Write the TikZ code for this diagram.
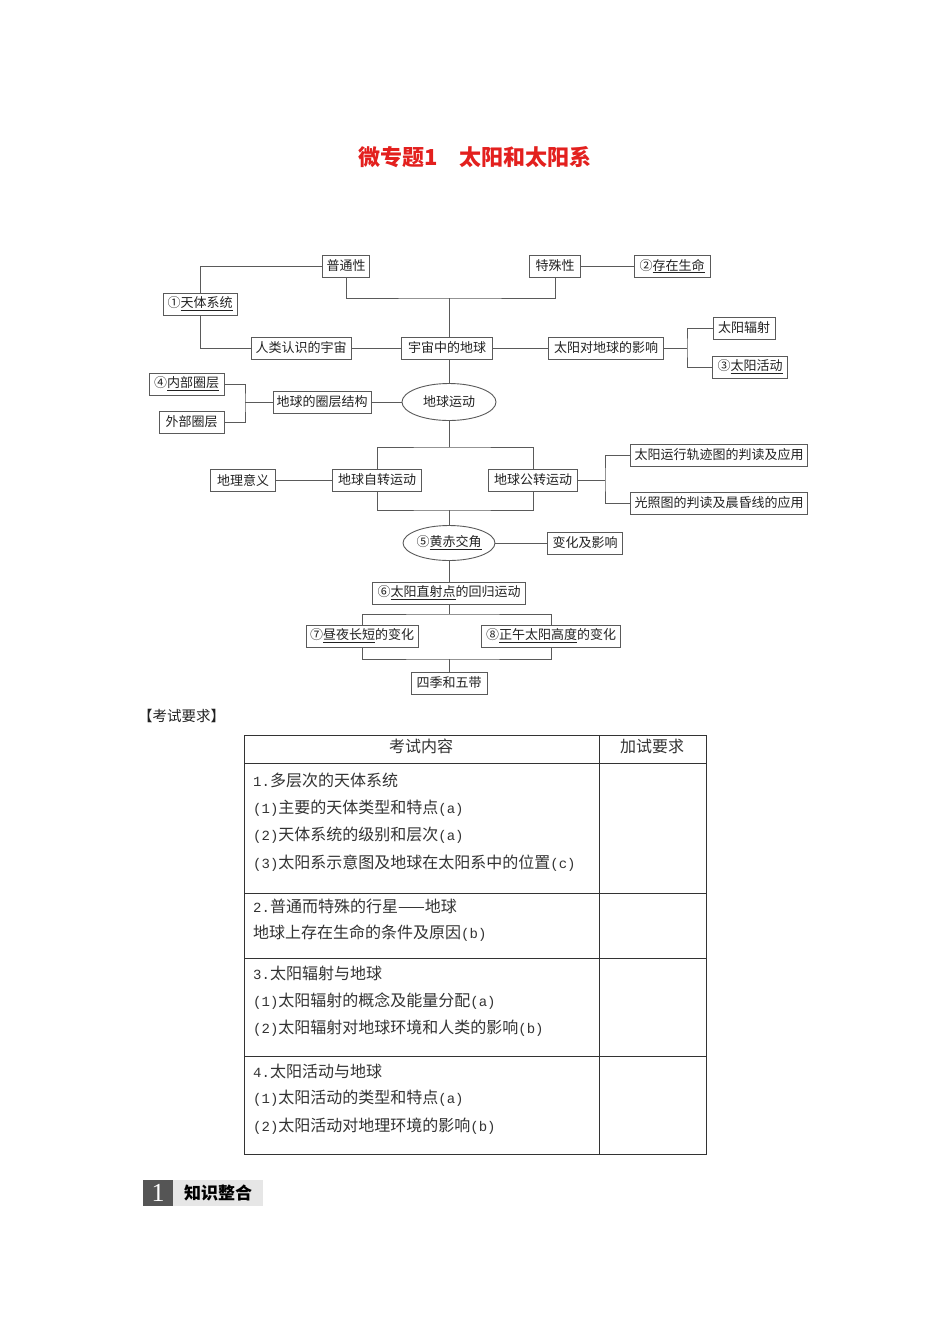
\documentclass[tikz,border=0pt]{standalone}
\usepackage{fontspec}
\setmainfont{Noto Sans CJK SC}
\newfontfamily\myserifnum{Liberation Serif}
\newfontfamily\myasc{Liberation Mono}
\usetikzlibrary{shapes.geometric}
\definecolor{ln}{HTML}{5A5A5A}
\definecolor{titlered}{HTML}{E3201E}
\definecolor{txt}{HTML}{222222}
\definecolor{tbl}{HTML}{333333}
\definecolor{badgedark}{HTML}{555555}
\definecolor{badgelight}{HTML}{E6E6E6}
\newcommand\mybxfont{\fontsize{13}{14}\selectfont}
\newcommand\mytabfont{\fontsize{16}{17}\selectfont}
\newcommand\A[1]{{\myasc\fontsize{14}{17}\selectfont #1}}
\tikzset{
 bx/.style={draw=ln, line width=0.9pt, fill=white, minimum height=22, inner xsep=3, inner ysep=1, font=\mybxfont, text=txt},
 el/.style={ellipse, draw=ln, line width=0.9pt, fill=white, inner sep=0, font=\mybxfont, text=txt},
 cn/.style={draw=ln, line width=0.9pt},
 tl/.style={draw=tbl, line width=1pt},
 tt/.style={anchor=west, font=\mytabfont, text=tbl, inner sep=0},
}
\begin{document}
\begin{tikzpicture}[x=1pt,y=-1pt]
\useasboundingbox[fill=white] (0,0) rectangle (950,1344);
% title
\node[font=\fontsize{22}{22}\selectfont\bfseries, text=titlered] (title) at (475,157) {微专题1　太阳和太阳系};
% nodes
\node[bx, minimum width=47] (pt) at (346,266) {普通性};
\node[bx, minimum width=74] (tx) at (200,304) {①\underline{天体系统}};
\node[bx, minimum width=100] (rl) at (301,348) {人类认识的宇宙};
\node[bx, minimum width=91] (yz) at (447,348) {宇宙中的地球};
\node[bx, minimum width=51] (ts) at (555,266) {特殊性};
\node[bx, minimum width=76] (sm) at (672,266) {②\underline{存在生命}};
\node[bx, minimum width=115] (yx) at (606,348) {太阳对地球的影响};
\node[bx, minimum width=62] (fs) at (744,328) {太阳辐射};
\node[bx, minimum width=75] (hd) at (750,367) {③\underline{太阳活动}};
\node[bx, minimum width=75] (nb) at (186.5,384) {④\underline{内部圈层}};
\node[bx, minimum width=65] (wb) at (191.5,422) {外部圈层};
\node[bx, minimum width=98] (qc) at (322,402) {地球的圈层结构};
\node[el, minimum width=94, minimum height=37] (yd) at (449,402) {地球运动};
\node[bx, minimum width=65] (dl) at (243,480) {地理意义};
\node[bx, minimum width=89] (zz) at (377,480) {地球自转运动};
\node[bx, minimum width=89] (gz) at (533,480) {地球公转运动};
\node[bx, minimum width=177] (gj) at (719,455) {太阳运行轨迹图的判读及应用};
\node[bx, minimum width=177] (gx) at (719,503) {光照图的判读及晨昏线的应用};
\node[el, minimum width=84, minimum height=35] (hc) at (449,543) {⑤\underline{黄赤交角}};
\node[bx, minimum width=75] (bh) at (585,543) {变化及影响};
\node[bx, minimum width=153] (zs) at (449,593) {⑥\underline{太阳直射点}的回归运动};
\node[bx, minimum width=112] (zy) at (362,636) {⑦\underline{昼夜长短}的变化};
\node[bx, minimum width=139] (zw) at (551,636) {⑧\underline{正午太阳高度}的变化};
\node[bx, minimum width=76] (sj) at (449,683) {四季和五带};
% junction coordinates
\coordinate (jt) at (449,298);
\coordinate (jr) at (687,348);
\coordinate (jl) at (245,402);
\coordinate (ja) at (449,447);
\coordinate (jb) at (449,510);
\coordinate (jg) at (605,480);
\coordinate (jc) at (449,614);
\coordinate (jd) at (449,659);
% connectors
\draw[cn] (pt.south) |- (jt) -| (ts.south);
\draw[cn] (jt) -- (jt |- yz.north);
\draw[cn] (pt.west) -| (tx.north);
\draw[cn] (tx.south) |- (rl.west);
\draw[cn] (rl) -- (yz);
\draw[cn] (yz) -- (yx);
\draw[cn] (ts) -- (sm);
\draw[cn] (yx.east) -- (jr);
\draw[cn] (fs.west) -| (jr) |- (hd.west);
\draw[cn] (jt |- yz.south) -- (yd.north);
\draw[cn] (yd) -- (qc);
\draw[cn] (qc.west) -- (jl);
\draw[cn] (nb.east) -| (jl) |- (wb.east);
\draw[cn] (yd.south) -- (ja);
\draw[cn] (zz.north) |- (ja) -| (gz.north);
\draw[cn] (zz.south) |- (jb) -| (gz.south);
\draw[cn] (jb) -- (hc.north);
\draw[cn] (dl) -- (zz);
\draw[cn] (gz.east) -- (jg);
\draw[cn] (gj.west) -| (jg) |- (gx.west);
\draw[cn] (hc) -- (bh);
\draw[cn] (hc.south) -- (zs.north);
\draw[cn] (zs.south) -- (jc);
\draw[cn] (zy.north) |- (jc) -| (zw.north);
\draw[cn] (zy.south) |- (jd) -| (zw.south);
\draw[cn] (jd) -- (sj.north);
% exam requirements
\node[anchor=west, inner sep=0, font=\fontsize{14.5}{16}\selectfont, text=txt] (kr) at (138,716) {【考试要求】};
\draw[tl] (244,735) rectangle (706,1154);
\draw[tl] (599,735) -- (599,1154);
\foreach \yy in {763,893,958,1056} \draw[tl] (244,\yy) -- (706,\yy);
\node[font=\mytabfont, text=tbl, inner sep=0] (h1) at (421,746) {考试内容};
\node[font=\mytabfont, text=tbl, inner sep=0] (h2) at (652,746) {加试要求};
\node[tt] (r1a) at (253,780) {\A{1.}多层次的天体系统};
\node[tt] (r1b) at (253,808) {\A{(1)}主要的天体类型和特点\A{(a)}};
\node[tt] (r1c) at (253,835) {\A{(2)}天体系统的级别和层次\A{(a)}};
\node[tt] (r1d) at (253,863) {\A{(3)}太阳系示意图及地球在太阳系中的位置\A{(c)}};
\node[tt] (r2a) at (253,906) {\A{2.}普通而特殊的行星——地球};
\node[tt] (r2b) at (253,933) {地球上存在生命的条件及原因\A{(b)}};
\node[tt] (r3a) at (253,973) {\A{3.}太阳辐射与地球};
\node[tt] (r3b) at (253,1001) {\A{(1)}太阳辐射的概念及能量分配\A{(a)}};
\node[tt] (r3c) at (253,1028) {\A{(2)}太阳辐射对地球环境和人类的影响\A{(b)}};
\node[tt] (r4a) at (253,1071) {\A{4.}太阳活动与地球};
\node[tt] (r4b) at (253,1098) {\A{(1)}太阳活动的类型和特点\A{(a)}};
\node[tt] (r4c) at (253,1126) {\A{(2)}太阳活动对地理环境的影响\A{(b)}};
% badge
\fill[badgedark] (143,1180) rectangle (173,1206);
\fill[badgelight] (173,1180) rectangle (263,1206);
\node[text=white, font=\myserifnum\fontsize{26}{26}\selectfont, inner sep=0] (bn) at (158,1193) {1};
\node[font=\fontsize{17}{17}\selectfont\bfseries, text=black, inner sep=0] (bt) at (218,1193) {知识整合};
\end{tikzpicture}
\end{document}
